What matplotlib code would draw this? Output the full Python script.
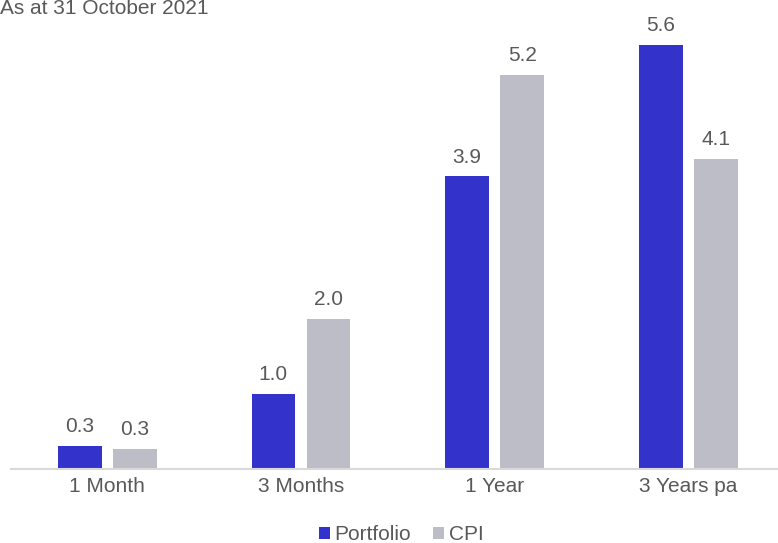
import matplotlib.pyplot as plt
import numpy as np

plt.rcParams['font.family'] = ['Liberation Sans', 'DejaVu Sans']

# data
categories = ["1 Month", "3 Months", "1 Year", "3 Years pa"]
portfolio = [0.30, 0.99, 3.86, 5.6]
cpi = [0.26, 1.98, 5.2, 4.09]

blue = "#3333CC"
grey = "#BDBDC7"
txt = "#595959"
fs = 15

fig = plt.figure(figsize=(7.78, 5.43), dpi=100)
ax = fig.add_axes([10.5 / 778, 74.3 / 543, 767.5 / 778, 454.2 / 543])

x = np.arange(len(categories))
w = 0.225
off = 0.1425
b1 = ax.bar(x - off, portfolio, w, color=blue, label="Portfolio")
b2 = ax.bar(x + off, cpi, w, color=grey, label="CPI")

for bars in (b1, b2):
    for b in bars:
        h = b.get_height()
        ax.annotate(f"{h:.1f}", (b.get_x() + b.get_width() / 2, h),
                    xytext=(0, 7), textcoords="offset points",
                    ha="center", va="bottom", fontsize=fs, color=txt)

ax.set_xlim(-0.5, 3.463)
ax.set_ylim(0, 6)
ax.set_xticks(x)
ax.set_xticklabels(categories, fontsize=fs, color=txt)
ax.tick_params(axis="x", length=0, pad=6)
ax.set_yticks([])
for s in ["top", "right", "left"]:
    ax.spines[s].set_visible(False)
ax.spines["bottom"].set_color("#D9D9D9")
ax.spines["bottom"].set_linewidth(1.5)

fig.text(0.0, 1 - 9 / 543, "As at 31 October 2021", fontsize=fs, color=txt,
         ha="left", va="center")

fig.legend(handles=[b1, b2], loc="center", bbox_to_anchor=(401 / 778, 1 - 535 / 543),
           ncol=2, frameon=False, fontsize=fs, labelcolor=txt,
           handlelength=0.55, handleheight=0.55, handletextpad=0.2, columnspacing=1.05)

fig.savefig("out.png", dpi=100)
